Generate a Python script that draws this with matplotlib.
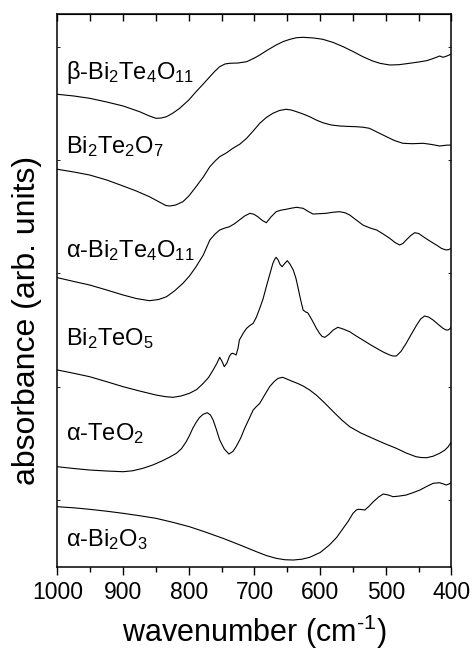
import matplotlib
matplotlib.use("Agg")
import matplotlib.pyplot as plt
import numpy as np

plt.rcParams['font.family'] = ['Liberation Sans', 'DejaVu Sans']
plt.rcParams['mathtext.fontset'] = 'custom'
plt.rcParams['mathtext.rm'] = 'Liberation Sans'
plt.rcParams['mathtext.it'] = 'Liberation Sans:italic'
plt.rcParams['mathtext.bf'] = 'Liberation Sans:bold'

# spectra (wavenumber, absorbance in arb. units, already offset)
wn_beta = [1000, 975, 951, 925, 900, 875, 860, 850, 842, 834, 824, 814, 800, 789, 778, 768,
           760, 753, 745, 738, 725, 712, 700, 692, 680, 667, 656, 646, 636, 626, 610, 596,
           580, 565, 550, 535, 520, 509, 494, 480, 464, 450, 438, 430, 423, 418, 413, 407, 400]
ab_beta = [472.7, 471, 468.7, 465, 461, 455.3, 451, 448.7, 449, 450.3, 454, 458.7, 467, 475.3,
           483, 490.3, 496, 500.3, 503, 503.7, 504, 505.3, 509, 512, 517, 522, 525.5, 527.7,
           529.3, 529.7, 529, 527.7, 524.5, 520.3, 515.5, 510.3, 506, 503.7, 502, 502.3, 503.7,
           505, 506.3, 508, 509.7, 511, 509.7, 511, 513]

wn_227 = [1000, 975, 951, 925, 900, 880, 860, 845, 835, 829, 820, 809, 800, 789, 778, 768,
          760, 753, 743, 733, 722, 712, 702, 692, 682, 672, 662, 652, 644, 636, 626, 616,
          606, 596, 583, 570, 558, 545, 535, 525, 512, 499, 487, 474, 460, 443, 430, 418,
          408, 400]
ab_227 = [397.7, 395, 392, 387, 381, 376, 370.3, 365, 361.5, 361, 362, 365.3, 371, 380.3, 390,
          400.3, 406, 410.3, 414, 418.7, 423, 428.7, 436, 443.7, 449.5, 453.7, 456.5, 457.7,
          457, 455.3, 453, 450.3, 447, 444.3, 442, 441, 440.6, 440.3, 439.8, 438.7, 434.5,
          430.3, 426.5, 423.7, 423.3, 423.7, 422.5, 421, 421.8, 422]

wn_alpha = [1000, 975, 951, 925, 900, 880, 860, 846, 834, 822, 809, 799, 789, 778, 768, 760,
            753, 745, 738, 730, 723, 715, 707, 701, 695, 688, 682, 675, 667, 660, 652, 644,
            636, 626, 618, 611, 601, 591, 580, 570, 562, 555, 545, 535, 524, 514, 504, 494,
            486, 479, 474, 469, 462, 456, 450, 443, 433, 423, 415, 408, 404, 400]
ab_alpha = [289.3, 285.5, 282, 277, 272, 268.5, 266.3, 267.5, 270.3, 276, 283.7, 291, 300.3,
            312, 327, 333, 337, 339, 340.3, 343.5, 347, 351, 353.7, 352.8, 350.3, 346.5, 344.3,
            350, 355.3, 356.8, 357.7, 358.8, 359.7, 358.7, 355.5, 353, 353.3, 353.7, 354.8,
            355.3, 354.2, 352, 347, 342, 339, 337, 333, 328.7, 324.5, 322, 323.5, 327, 331.5,
            334.3, 333.5, 330.3, 326, 322, 318.5, 317, 317.5, 318.7]

wn_215 = [1000, 975, 951, 925, 900, 875, 850, 835, 824, 812, 799, 788, 778, 770, 763, 757,
          753, 749, 746, 742, 738, 735, 733, 730, 728, 725, 723, 717, 712, 707, 702, 697,
          692, 687, 682, 677, 672, 669, 667, 664, 661, 658, 654, 650, 646, 641, 637, 634,
          630, 626, 622, 619, 615, 611, 606, 601, 597, 593, 587, 580, 573, 565, 555, 545,
          535, 524, 514, 504, 494, 489, 484, 477, 469, 461, 453, 447, 441, 435, 428, 420,
          413, 408, 405, 402, 400]
ab_215 = [197, 193.7, 190.3, 185.3, 180.3, 176, 172, 170.3, 169.7, 171, 173.7, 177.5, 183.7,
          189.5, 197, 204, 209.7, 205, 200.3, 204, 211, 213.5, 213.7, 212.8, 212, 219, 227,
          234, 238.7, 241.5, 243.7, 250, 258.7, 268, 280.3, 292, 303.7, 308, 309.7, 307, 302.5,
          300.3, 303.5, 306.3, 303, 297, 289, 280.3, 268, 257, 255, 254.3, 250, 245.3, 239,
          233.7, 230.5, 229.7, 232.5, 237, 239.7, 238, 235.3, 231, 227, 222.5, 218.7, 215,
          212, 211, 211, 215.5, 223.7, 233, 242, 248, 251, 250, 247, 242.5, 238.7, 237, 237,
          238.5, 240.3]

wn_teo2 = [1000, 975, 951, 925, 900, 885, 870, 855, 840, 829, 819, 811, 804, 799, 794, 789,
           784, 778, 772, 767, 763, 758, 753, 746, 739, 733, 728, 721, 715, 708, 702, 697,
           692, 685, 677, 670, 664, 657, 649, 641, 634, 626, 616, 606, 593, 580, 567, 555,
           538, 520, 502, 484, 469, 454, 446, 438, 428, 418, 410, 405, 400]
ab_teo2 = [100.3, 98.5, 97, 96, 95.3, 96.3, 98.7, 102, 106.3, 110, 113.7, 118.5, 125.3, 131.5,
           138.7, 144.5, 149.3, 152.8, 154.3, 152, 147, 137.5, 127, 118, 113, 115.5, 120.3,
           129, 138.7, 148.5, 157, 160.5, 163.7, 171.5, 180.3, 185.5, 188.7, 189.7, 187.5,
           185.3, 183.5, 181, 177, 172, 164, 155.3, 147, 140.3, 134, 128.7, 123.5, 118.7, 114,
           110.3, 109.5, 109.3, 110.8, 113.7, 117, 120.3, 125.3]

wn_bi2o3 = [1000, 975, 951, 925, 900, 875, 850, 825, 799, 774, 748, 722, 697, 682, 667, 654,
            641, 628, 616, 600, 586, 575, 565, 557, 550, 545, 542, 537, 532, 526, 519, 511,
            504, 496, 489, 479, 469, 458, 448, 438, 428, 418, 412, 408, 404, 400]
ab_bi2o3 = [60.3, 59.2, 57.7, 55.8, 53.7, 51.3, 48.7, 44.8, 40.3, 34.8, 28.7, 22, 15.3, 11.5,
            8.7, 7.3, 7, 7.8, 9.7, 14.5, 22, 29.5, 38.7, 46, 53.7, 57, 57.7, 57.5, 57, 60.5,
            65.3, 70, 73, 72, 70.3, 71, 72, 74.5, 77, 80.5, 83.7, 84.3, 83, 82, 83, 84.3]

names = ['β-Bi$_2$Te$_4$O$_{11}$', 'Bi$_2$Te$_2$O$_7$', 'α-Bi$_2$Te$_4$O$_{11}$',
         'Bi$_2$TeO$_5$', 'α-TeO$_2$', 'α-Bi$_2$O$_3$']
name_y = [488, 414, 310, 222, 127, 21]

fig = plt.figure(figsize=(4.74, 6.51), dpi=100)
ax = fig.add_axes([0.1213, 0.129, 0.8312, 0.8495])

for wn, ab in [(wn_beta, ab_beta), (wn_227, ab_227), (wn_alpha, ab_alpha),
               (wn_215, ab_215), (wn_teo2, ab_teo2), (wn_bi2o3, ab_bi2o3)]:
    ax.plot(wn, ab, color='black', lw=0.8, solid_joinstyle='round')

for n, y in zip(names, name_y):
    ax.text(987, y, n, fontsize=17, ha='left', va='baseline')

ax.set_xlim(1000, 400)
ax.set_ylim(0, 553)
ax.set_xticks(np.arange(1000, 399, -100))
ax.set_xticks(np.arange(950, 400, -100), minor=True)
ax.set_yticks([67, 180, 294, 407, 520])
ax.set_yticklabels([])
ax.tick_params(axis='x', which='major', direction='out', length=6, width=1, labelsize=16.5, pad=4)
ax.tick_params(axis='x', which='minor', direction='out', length=3.5, width=1)
ax.tick_params(axis='y', direction='in', length=2, width=0.6, left=True, right=True)
for s in ax.spines.values():
    s.set_linewidth(1.1)

top = ax.secondary_xaxis('top')
top.set_xticks(np.arange(1000, 399, -50))
top.set_xticklabels([])
top.tick_params(direction='in', length=5, width=1)

ax.set_xlabel(r'wavenumber (cm$^{\text{-1}}$)', fontsize=22, labelpad=6)
ax.set_ylabel('absorbance (arb. units)', fontsize=23)
ax.yaxis.set_label_coords(-0.04, 0.445)

fig.savefig('out.png', dpi=100)
